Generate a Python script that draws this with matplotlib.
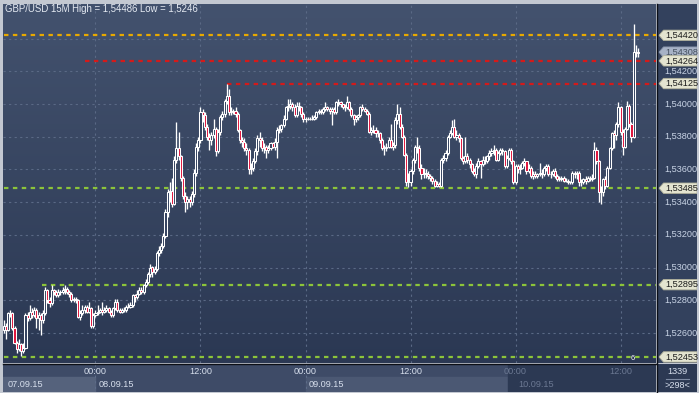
import numpy as np
import matplotlib
matplotlib.use("Agg")
import matplotlib.pyplot as plt
from matplotlib.patches import Polygon, Rectangle
from matplotlib.lines import Line2D
from matplotlib.colors import LinearSegmentedColormap

plt.rcParams['font.family'] = ['Liberation Sans', 'DejaVu Sans']

# ---------------- data (GBP/USD 15M) ----------------
title = "GBP/USD 15M High = 1,54486 Low = 1,5246"
open0 = 1.5262
close = [
 1.5264, 1.5262, 1.5272, 1.5272, 1.5263, 1.5254, 1.5250, 1.5253, 1.5249, 1.5251,
 1.5271, 1.5269, 1.5273, 1.5271, 1.5274, 1.5269, 1.5271, 1.5268, 1.5272, 1.5286,
 1.5280, 1.5278, 1.5286, 1.5285, 1.5283, 1.5285, 1.5285, 1.5286, 1.5287, 1.5285,
 1.5284, 1.5280, 1.5281, 1.5280, 1.5270, 1.5272, 1.5274, 1.5276, 1.5273, 1.5275,
 1.5264, 1.5271, 1.5272, 1.5273, 1.5274, 1.5273, 1.5274, 1.5275, 1.5273, 1.5271,
 1.5275, 1.5279, 1.5274, 1.5273, 1.5274, 1.5274, 1.5276, 1.5276, 1.5277, 1.5283,
 1.5282, 1.5284, 1.5286, 1.5285, 1.5289, 1.5291, 1.5296, 1.5300, 1.5297, 1.5299,
 1.5309, 1.5311, 1.5313, 1.5319, 1.5334, 1.5346, 1.5347, 1.5339, 1.5366, 1.5373,
 1.5368, 1.5355, 1.5344, 1.5340, 1.5342, 1.5340, 1.5345, 1.5358, 1.5374, 1.5378,
 1.5395, 1.5393, 1.5386, 1.5380, 1.5378, 1.5381, 1.5385, 1.5371, 1.5383, 1.5392,
 1.5394, 1.5402, 1.5405, 1.5395, 1.5396, 1.5396, 1.5394, 1.5384, 1.5378, 1.5377,
 1.5373, 1.5372, 1.5360, 1.5361, 1.5365, 1.5371, 1.5379, 1.5378, 1.5373, 1.5374,
 1.5372, 1.5373, 1.5376, 1.5374, 1.5377, 1.5384, 1.5385, 1.5387, 1.5391, 1.5398,
 1.5399, 1.5400, 1.5398, 1.5393, 1.5399, 1.5398, 1.5394, 1.5391, 1.5391, 1.5391,
 1.5391, 1.5391, 1.5392, 1.5395, 1.5396, 1.5395, 1.5397, 1.5398, 1.5397, 1.5396,
 1.5397, 1.5395, 1.5401, 1.5401, 1.5400, 1.5398, 1.5398, 1.5401, 1.5397, 1.5393,
 1.5391, 1.5392, 1.5393, 1.5398, 1.5397, 1.5396, 1.5394, 1.5383, 1.5384, 1.5384,
 1.5382, 1.5382, 1.5378, 1.5373, 1.5373, 1.5374, 1.5378, 1.5374, 1.5375, 1.5390,
 1.5394, 1.5386, 1.5380, 1.5369, 1.5352, 1.5352, 1.5359, 1.5366, 1.5374, 1.5373,
 1.5361, 1.5357, 1.5358, 1.5357, 1.5356, 1.5355, 1.5353, 1.5350, 1.5351, 1.5350,
 1.5366, 1.5367, 1.5370, 1.5380, 1.5382, 1.5386, 1.5380, 1.5381, 1.5379, 1.5367,
 1.5365, 1.5368, 1.5366, 1.5363, 1.5359, 1.5357, 1.5362, 1.5365, 1.5363, 1.5366,
 1.5365, 1.5368, 1.5370, 1.5371, 1.5372, 1.5366, 1.5370, 1.5372, 1.5371, 1.5362,
 1.5367, 1.5372, 1.5365, 1.5352, 1.5362, 1.5360, 1.5361, 1.5364, 1.5365, 1.5359,
 1.5361, 1.5356, 1.5357, 1.5356, 1.5357, 1.5358, 1.5357, 1.5361, 1.5362, 1.5357,
 1.5357, 1.5359, 1.5356, 1.5354, 1.5354, 1.5355, 1.5353, 1.5353, 1.5352, 1.5352,
 1.5358, 1.5357, 1.5358, 1.5352, 1.5352, 1.5354, 1.5353, 1.5355, 1.5354, 1.5355,
 1.5372, 1.5365, 1.5346, 1.5346, 1.5354, 1.5350, 1.5361, 1.5373, 1.5382, 1.5381,
 1.5388, 1.5398, 1.5383, 1.5374, 1.5385, 1.5399, 1.5388, 1.5380, 1.5432, 1.5432, 1.5431]
high = [
 1.5268, 1.5266, 1.5273, 1.5274, 1.5273, 1.5264, 1.5255, 1.5256, 1.5254, 1.5254,
 1.5272, 1.5273, 1.5277, 1.5275, 1.5276, 1.5275, 1.5273, 1.5272, 1.5274, 1.5288,
 1.5287, 1.5282, 1.5289, 1.5287, 1.5286, 1.5287, 1.5286, 1.5288, 1.5289, 1.5288,
 1.5286, 1.5285, 1.5282, 1.5282, 1.5281, 1.5274, 1.5277, 1.5277, 1.5277, 1.5279,
 1.5276, 1.5272, 1.5274, 1.5277, 1.5275, 1.5279, 1.5276, 1.5277, 1.5276, 1.5274,
 1.5276, 1.5281, 1.5281, 1.5275, 1.5275, 1.5276, 1.5277, 1.5278, 1.5279, 1.5284,
 1.5284, 1.5286, 1.5288, 1.5288, 1.5290, 1.5293, 1.5297, 1.5302, 1.5301, 1.5301,
 1.5310, 1.5313, 1.5315, 1.5321, 1.5336, 1.5348, 1.5352, 1.5355, 1.5368, 1.5389,
 1.5383, 1.5369, 1.5356, 1.5346, 1.5344, 1.5344, 1.5347, 1.5360, 1.5376, 1.5380,
 1.5398, 1.5397, 1.5395, 1.5388, 1.5382, 1.5383, 1.5391, 1.5386, 1.5385, 1.5393,
 1.5396, 1.5403, 1.5412, 1.5409, 1.5398, 1.5397, 1.5398, 1.5395, 1.5385, 1.5380,
 1.5379, 1.5376, 1.5373, 1.5364, 1.5367, 1.5373, 1.5381, 1.5383, 1.5380, 1.5376,
 1.5375, 1.5375, 1.5377, 1.5377, 1.5379, 1.5386, 1.5387, 1.5388, 1.5393, 1.5399,
 1.5403, 1.5403, 1.5401, 1.5400, 1.5401, 1.5401, 1.5399, 1.5395, 1.5392, 1.5392,
 1.5392, 1.5393, 1.5393, 1.5396, 1.5397, 1.5397, 1.5398, 1.5401, 1.5399, 1.5398,
 1.5398, 1.5398, 1.5402, 1.5403, 1.5402, 1.5400, 1.5400, 1.5405, 1.5402, 1.5398,
 1.5394, 1.5393, 1.5394, 1.5399, 1.5400, 1.5398, 1.5397, 1.5395, 1.5386, 1.5387,
 1.5386, 1.5384, 1.5383, 1.5379, 1.5375, 1.5376, 1.5380, 1.5388, 1.5377, 1.5392,
 1.5400, 1.5398, 1.5388, 1.5381, 1.5370, 1.5358, 1.5360, 1.5367, 1.5375, 1.5380,
 1.5375, 1.5363, 1.5361, 1.5360, 1.5359, 1.5357, 1.5356, 1.5354, 1.5353, 1.5352,
 1.5367, 1.5369, 1.5372, 1.5381, 1.5384, 1.5390, 1.5391, 1.5384, 1.5382, 1.5380,
 1.5368, 1.5380, 1.5370, 1.5367, 1.5364, 1.5361, 1.5364, 1.5367, 1.5366, 1.5368,
 1.5368, 1.5369, 1.5372, 1.5373, 1.5375, 1.5373, 1.5371, 1.5373, 1.5373, 1.5372,
 1.5369, 1.5373, 1.5373, 1.5366, 1.5363, 1.5363, 1.5363, 1.5365, 1.5367, 1.5364,
 1.5363, 1.5362, 1.5359, 1.5359, 1.5358, 1.5364, 1.5360, 1.5362, 1.5363, 1.5363,
 1.5359, 1.5360, 1.5361, 1.5357, 1.5356, 1.5356, 1.5356, 1.5355, 1.5354, 1.5353,
 1.5359, 1.5359, 1.5359, 1.5359, 1.5354, 1.5355, 1.5356, 1.5356, 1.5356, 1.5357,
 1.5377, 1.5374, 1.5366, 1.5350, 1.5355, 1.5356, 1.5362, 1.5374, 1.5383, 1.5384,
 1.5389, 1.5401, 1.5399, 1.5385, 1.5386, 1.5402, 1.5400, 1.5389, 1.5449, 1.5436, 1.5434]
low = [
 1.5260, 1.5256, 1.5261, 1.5270, 1.5262, 1.5253, 1.5248, 1.5249, 1.5246, 1.5248,
 1.5250, 1.5267, 1.5268, 1.5269, 1.5270, 1.5263, 1.5262, 1.5259, 1.5266, 1.5271,
 1.5278, 1.5276, 1.5277, 1.5283, 1.5282, 1.5282, 1.5283, 1.5284, 1.5284, 1.5284,
 1.5282, 1.5279, 1.5279, 1.5278, 1.5269, 1.5268, 1.5271, 1.5272, 1.5272, 1.5272,
 1.5263, 1.5263, 1.5270, 1.5271, 1.5272, 1.5271, 1.5272, 1.5273, 1.5272, 1.5270,
 1.5270, 1.5274, 1.5273, 1.5272, 1.5272, 1.5273, 1.5273, 1.5275, 1.5275, 1.5276,
 1.5279, 1.5281, 1.5283, 1.5284, 1.5284, 1.5288, 1.5290, 1.5294, 1.5294, 1.5296,
 1.5298, 1.5307, 1.5309, 1.5312, 1.5318, 1.5331, 1.5340, 1.5337, 1.5338, 1.5364,
 1.5366, 1.5353, 1.5342, 1.5334, 1.5336, 1.5337, 1.5338, 1.5343, 1.5356, 1.5371,
 1.5376, 1.5389, 1.5384, 1.5378, 1.5372, 1.5375, 1.5379, 1.5368, 1.5370, 1.5381,
 1.5390, 1.5392, 1.5400, 1.5393, 1.5393, 1.5394, 1.5392, 1.5383, 1.5376, 1.5374,
 1.5371, 1.5369, 1.5357, 1.5357, 1.5359, 1.5364, 1.5369, 1.5374, 1.5371, 1.5370,
 1.5367, 1.5370, 1.5372, 1.5373, 1.5372, 1.5367, 1.5382, 1.5383, 1.5386, 1.5390,
 1.5396, 1.5397, 1.5396, 1.5392, 1.5392, 1.5396, 1.5392, 1.5389, 1.5389, 1.5390,
 1.5390, 1.5390, 1.5390, 1.5391, 1.5394, 1.5394, 1.5394, 1.5396, 1.5396, 1.5394,
 1.5387, 1.5394, 1.5394, 1.5399, 1.5398, 1.5397, 1.5396, 1.5397, 1.5396, 1.5392,
 1.5387, 1.5389, 1.5390, 1.5392, 1.5396, 1.5395, 1.5393, 1.5382, 1.5381, 1.5382,
 1.5380, 1.5380, 1.5376, 1.5372, 1.5369, 1.5371, 1.5373, 1.5373, 1.5372, 1.5373,
 1.5388, 1.5385, 1.5379, 1.5368, 1.5350, 1.5349, 1.5350, 1.5357, 1.5364, 1.5370,
 1.5359, 1.5354, 1.5355, 1.5355, 1.5354, 1.5353, 1.5351, 1.5349, 1.5349, 1.5349,
 1.5349, 1.5364, 1.5365, 1.5369, 1.5379, 1.5381, 1.5379, 1.5378, 1.5377, 1.5366,
 1.5363, 1.5364, 1.5364, 1.5361, 1.5358, 1.5356, 1.5355, 1.5361, 1.5355, 1.5362,
 1.5363, 1.5364, 1.5366, 1.5368, 1.5369, 1.5365, 1.5365, 1.5369, 1.5369, 1.5361,
 1.5361, 1.5366, 1.5363, 1.5351, 1.5351, 1.5358, 1.5357, 1.5360, 1.5362, 1.5357,
 1.5358, 1.5355, 1.5354, 1.5355, 1.5355, 1.5356, 1.5355, 1.5356, 1.5359, 1.5356,
 1.5355, 1.5356, 1.5355, 1.5353, 1.5353, 1.5353, 1.5352, 1.5352, 1.5351, 1.5351,
 1.5351, 1.5355, 1.5354, 1.5350, 1.5350, 1.5351, 1.5351, 1.5352, 1.5353, 1.5353,
 1.5354, 1.5363, 1.5340, 1.5339, 1.5344, 1.5348, 1.5349, 1.5360, 1.5372, 1.5373,
 1.5378, 1.5386, 1.5381, 1.5369, 1.5373, 1.5384, 1.5386, 1.5377, 1.5379, 1.5429, 1.5429]

level_prices = [1.54420, 1.54264, 1.54125, 1.53485, 1.52895, 1.52453]
level_colors = ["#e8a900", "#d41a1a", "#d41a1a", "#8cc43a", "#8cc43a", "#8cc43a"]
level_start = [0, 37, 102, 0, 17.5, 0]          # bar index where each level line begins
current_price = 1.54308
grid_prices = [1.526, 1.528, 1.530, 1.532, 1.534, 1.536, 1.538, 1.540, 1.542, 1.544]
time_ticks = [42, 90, 138, 186, 234, 282]
time_labels = ["00:00", "12:00", "00:00", "12:00", "00:00", "12:00"]
date_ticks = [-2, 42, 138, 234]
date_labels = ["07.09.15", "08.09.15", "09.09.15", "10.09.15"]

# ---------------- layout ----------------
W, H = 699, 393
fig = plt.figure(figsize=(W / 100, H / 100), dpi=100, facecolor="#c3c8d1")

def px_axes(x0, y0, x1, y1):
    a = fig.add_axes([x0 / W, 1 - y1 / H, (x1 - x0) / W, (y1 - y0) / H])
    a.set_axis_off()
    return a

PPU = 16350.0                       # pixels per price unit
YLIM = (1.54 - (363 - 104) / PPU, 1.54 + (104 - 4) / PPU)
XLIM = (-0.27, 298.2)

ax = px_axes(3, 4, 656, 363)
ax.set_xlim(*XLIM)
ax.set_ylim(*YLIM)
cmap = LinearSegmentedColormap.from_list("bg", ["#2b3853", "#43526e"])
ax.imshow(np.linspace(0, 1, 256).reshape(-1, 1), cmap=cmap, origin="lower",
          extent=[XLIM[0], XLIM[1], YLIM[0], YLIM[1]], aspect="auto", zorder=0)

for p in grid_prices:
    ax.axhline(p, color="#5a6985", lw=0.8, ls=(0, (2, 3)), zorder=1)
for t in time_ticks:
    ax.axvline(t, color="#5a6985", lw=0.8, ls=(0, (2, 3)), zorder=1)

for p, c, s in zip(level_prices, level_colors, level_start):
    ax.plot([s, XLIM[1]], [p, p], color=c, lw=1.6, ls=(0, (2, 2)), zorder=2)

c = np.array(close)
o = np.r_[open0, c[:-1]]
hi = np.maximum(np.array(high), np.maximum(o, c))
lo = np.minimum(np.array(low), np.minimum(o, c))
k = np.arange(len(c))
ax.vlines(k, lo, hi, color="white", lw=0.95, zorder=3)
bot = np.minimum(o, c)
hgt = np.abs(c - o)
up = c >= o
ax.bar(k[up], hgt[up], bottom=bot[up], width=0.95, facecolor="#34425f",
       edgecolor="white", lw=0.75, zorder=4)
ax.bar(k[~up], hgt[~up], bottom=bot[~up], width=0.95, facecolor="#e0143c",
       edgecolor="white", lw=0.75, zorder=4)

ax.text(287.5, 1.54 - (359 - 104) / PPU, "6", color="white", fontsize=5.5,
        ha="center", va="center", zorder=6)

# ---------------- price column ----------------
pax = px_axes(657, 4, 697, 363)
pax.set_xlim(657, 697)
pax.set_ylim(*YLIM)
pax.add_patch(Rectangle((657, YLIM[0]), 40, YLIM[1] - YLIM[0], color="#33415d", zorder=0))

def fmt(p):
    return f"{p:.5f}".replace(".", ",")

tag_levels = level_prices + [current_price]
for p in grid_prices:
    if all(abs(p - t) * PPU > 7 for t in tag_levels):
        pax.text(664, p, fmt(p), color="#c9d4e6", fontsize=6.6, ha="left", va="center")

hh = 5.2 / PPU
def tag(p, face, edge, txtc, z, dy=0.0):
    y = p + dy / PPU
    pts = [(659, y), (663.5, y + hh), (697, y + hh), (697, y - hh), (663.5, y - hh)]
    pax.add_patch(Polygon(pts, closed=True, facecolor=face, edgecolor=edge, lw=0.6, zorder=z))
    pax.text(665, y, fmt(p), color=txtc, fontsize=6.6, ha="left", va="center", zorder=z + 0.5)

tag(current_price, "#a7b2c6", "#8a96ac", "#45505f", 3, dy=1.5)
for i, p in enumerate(level_prices):
    tag(p, "#e4e4d0", "#b0b09a", "#1c1c1c", 4 + i)

# ---------------- time strip ----------------
tax = px_axes(3, 364, 656, 392)
tax.set_xlim(*XLIM)
tax.set_ylim(392, 364)
tax.add_patch(Rectangle((XLIM[0], 364), 234 - 3.5 - XLIM[0], 28, color="#3e4b67", zorder=0))
tax.add_patch(Rectangle((XLIM[0], 377), 42 - XLIM[0], 15, color="#55627c", zorder=1))
tax.add_patch(Rectangle((138, 377), 234 - 3.5 - 138, 15, color="#4b5873", zorder=1))
tax.add_patch(Rectangle((234 - 3.5, 364), XLIM[1] - 230.5, 28, color="#2c3953", zorder=1))
for t in [42, 138]:
    tax.plot([t, t], [364, 392], color="#5d6c88", lw=0.8, ls=(0, (2, 3)), zorder=2)
for t, s in zip(time_ticks, time_labels):
    col = "#d6deec" if t < 230 else "#6b7892"
    tax.text(t, 372, s, color=col, fontsize=6.6, ha="center", va="center", zorder=3)
for t, s in zip(date_ticks, date_labels):
    col = "#d6deec" if t < 230 else "#6b7892"
    x = t + 1.3 if t > 0 else 2.0
    tax.text(x, 384.5, s, color=col, fontsize=6.6, ha="left", va="center", zorder=3)

bax = px_axes(657, 364, 697, 392)
bax.set_xlim(657, 697)
bax.set_ylim(392, 364)
bax.add_patch(Rectangle((657, 364), 40, 28, color="#2c3953", zorder=0))
bax.text(677.5, 372, "1339", color="#d6deec", fontsize=6.6, ha="center", va="center")
bax.plot([666, 689], [378.5, 378.5], color="#7d8aa2", lw=0.8)
bax.text(677.5, 385.5, ">298<", color="#d6deec", fontsize=6.6, ha="center", va="center")

# separators
fig.add_artist(Line2D([656.5 / W, 656.5 / W], [1 - 392 / H, 1 - 4 / H], color="#0c0f16", lw=1.0))
fig.add_artist(Line2D([3 / W, 656.5 / W], [1 - 363.8 / H, 1 - 363.8 / H], color="#0c0f16", lw=1.0))

fig.text(5 / W, 1 - 9.5 / H, title, color="#e6ebf3", fontsize=6.9, ha="left", va="center")

fig.savefig("out.png", dpi=100, facecolor=fig.get_facecolor())
